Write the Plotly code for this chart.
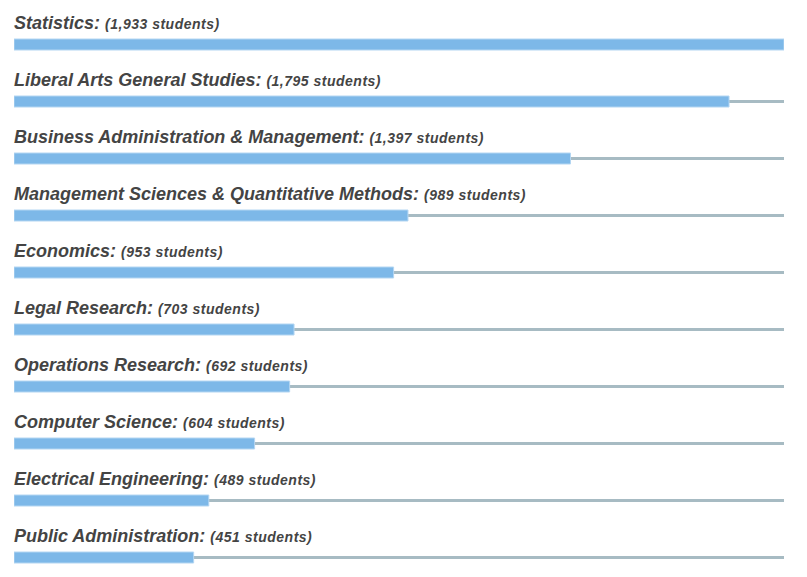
import plotly.graph_objects as go

majors = ["Statistics", "Liberal Arts General Studies", "Business Administration & Management",
          "Management Sciences & Quantitative Methods", "Economics", "Legal Research",
          "Operations Research", "Computer Science", "Electrical Engineering",
          "Public Administration"]
students = [1933, 1795, 1397, 989, 953, 703, 692, 604, 489, 451]

W, H = 807, 577
row_px = 57
first_center = 44.5
vmax = max(students)

fig = go.Figure()
fig.add_trace(go.Bar(
    x=[vmax] * len(majors), y=majors, orientation="h",
    width=3 / row_px, marker=dict(color="#a7bbc3", line=dict(width=0)),
    hoverinfo="skip", showlegend=False))
fig.add_trace(go.Bar(
    x=students, y=majors, orientation="h",
    width=11 / row_px, marker=dict(color="#7db8e8", line=dict(color="#b4d6f2", width=1)),
    hoverinfo="skip", showlegend=False))

for m, s in zip(majors, students):
    fig.add_annotation(
        x=0, xref="paper", y=m, yref="y", xanchor="left", yanchor="middle",
        xshift=-2, yshift=22, showarrow=False, align="left",
        text=(f"<b><i>{m}:</i></b> <span style='font-size:14px;letter-spacing:0.5px'>"
              f"<b><i>({s:,} students)</i></b></span>"),
        font=dict(family="Liberation Sans, Arial, sans-serif", size=18, color="#444444"))

top_val = 0 - first_center / row_px
bot_val = (len(majors) - 1) + (H - (first_center + (len(majors) - 1) * row_px)) / row_px

fig.update_layout(
    width=W, height=H, margin=dict(l=14, r=23, t=0, b=0),
    paper_bgcolor="white", plot_bgcolor="white", barmode="overlay",
    xaxis=dict(range=[0, vmax], visible=False, fixedrange=True),
    yaxis=dict(type="category", categoryorder="array", categoryarray=majors,
               range=[bot_val, top_val], visible=False, fixedrange=True),
)
fig.write_html("out.html", config={"displayModeBar": False})
